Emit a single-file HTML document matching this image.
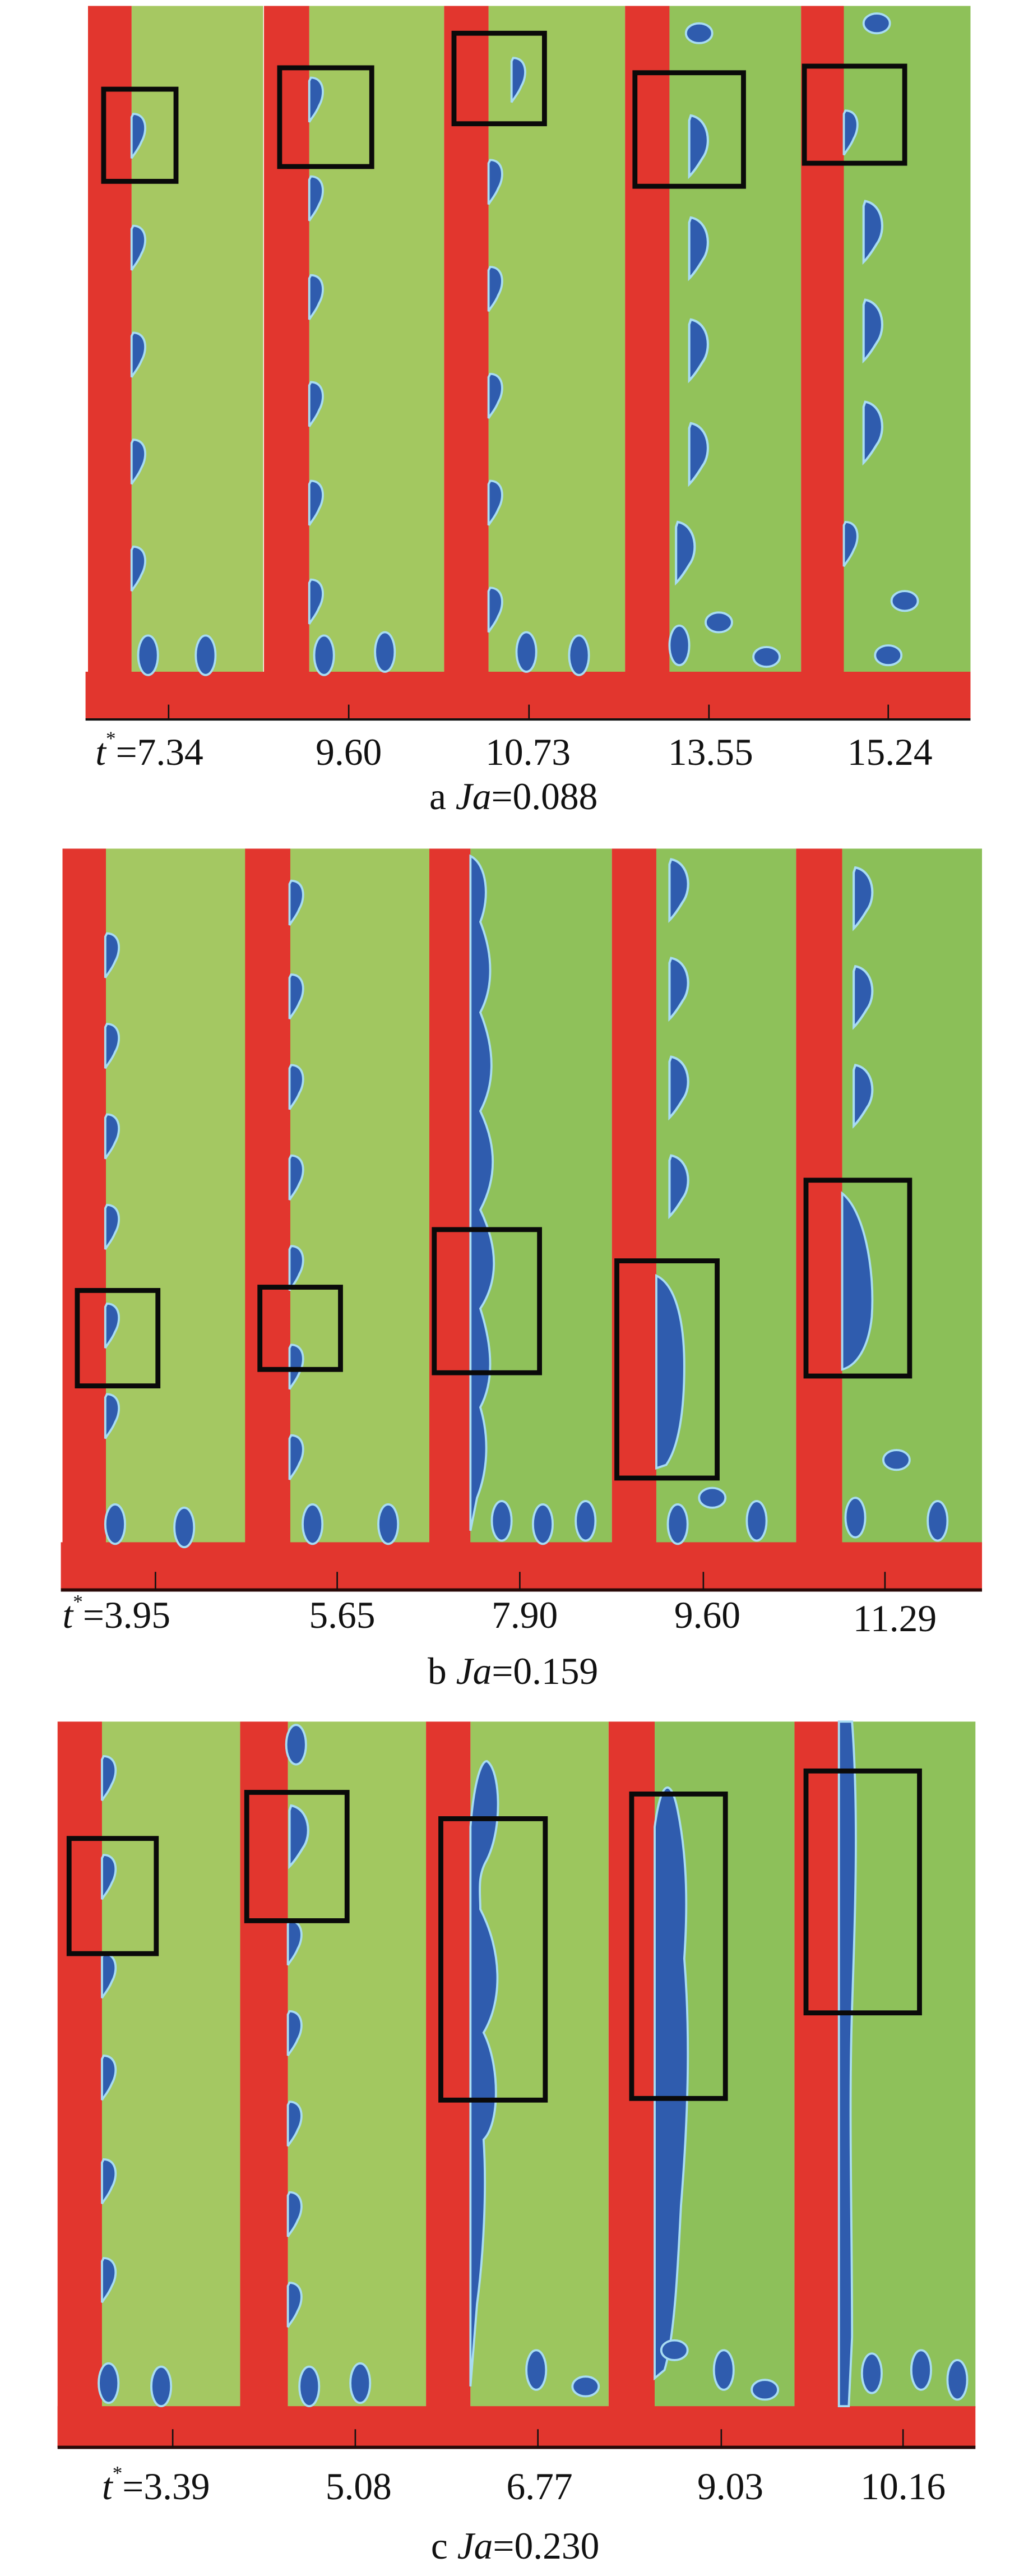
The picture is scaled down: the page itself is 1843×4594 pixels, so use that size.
<!DOCTYPE html>
<html><head><meta charset="utf-8"><style>
html,body{margin:0;padding:0;background:#fff}
svg{display:block}
text{font-family:"Liberation Serif",serif;fill:#111}
</style></head><body>
<svg width="1843" height="4594" viewBox="0 0 628 1565" xmlns="http://www.w3.org/2000/svg">
<defs>
<path id="d" d="M0,-13 C8,-13 9,-3 5,4 C3,9 0,12 -1,14 L-1,-11 Z" fill="#2f5cae" stroke="#a8dcf2" stroke-width="1.3"/>
<path id="D" d="M0,-18 C11,-16 13,0 7,8 C4,13 1,17 -1,19 L-1,-15 Z" fill="#2f5cae" stroke="#a8dcf2" stroke-width="1.4"/>
<ellipse id="b" rx="8" ry="6" fill="#2f5cae" stroke="#a8dcf2" stroke-width="1.3"/>
<ellipse id="p" rx="6" ry="12" fill="#2f5cae" stroke="#a8dcf2" stroke-width="1.3"/>
</defs>

<!-- ===== Panel a ===== -->
<rect x="80" y="3.4" width="80" height="405" fill="#a6c862"/>
<rect x="188" y="3.4" width="82" height="405" fill="#a3c860"/>
<rect x="297" y="3.4" width="83" height="405" fill="#9fc75e"/>
<rect x="407" y="3.4" width="80" height="405" fill="#92c25a"/>
<rect x="513" y="3.4" width="77" height="405" fill="#8ec159"/>
<g fill="#e2362e">
<rect x="53.5" y="3.4" width="26.5" height="433"/>
<rect x="160.5" y="3.4" width="27.5" height="433"/>
<rect x="270" y="3.4" width="27" height="433"/>
<rect x="380" y="3.4" width="27" height="433"/>
<rect x="487" y="3.4" width="26" height="433"/>
<rect x="52" y="408" width="538" height="28.5"/>
</g>
<g>
<use href="#d" x="81" y="82"/><use href="#d" x="81" y="150"/><use href="#d" x="81" y="215"/><use href="#d" x="81" y="280"/><use href="#d" x="81" y="345"/>
<use href="#p" x="90" y="398"/><use href="#p" x="125" y="398"/>
<use href="#d" x="189" y="60"/><use href="#d" x="189" y="120"/><use href="#d" x="189" y="180"/><use href="#d" x="189" y="245"/><use href="#d" x="189" y="305"/><use href="#d" x="189" y="365"/>
<use href="#p" x="197" y="398"/><use href="#p" x="234" y="396"/>
<use href="#d" x="312" y="48"/><use href="#d" x="298" y="110"/><use href="#d" x="298" y="175"/><use href="#d" x="298" y="240"/><use href="#d" x="298" y="305"/><use href="#d" x="298" y="370"/>
<use href="#p" x="320" y="396"/><use href="#p" x="352" y="398"/>
<use href="#b" x="425" y="20"/><use href="#D" x="420" y="88"/><use href="#D" x="420" y="150"/><use href="#D" x="420" y="212"/><use href="#D" x="420" y="275"/><use href="#D" x="412" y="335"/>
<use href="#p" x="413" y="392"/><use href="#b" x="437" y="378"/><use href="#b" x="466" y="399"/>
<use href="#b" x="533" y="14"/><use href="#d" x="514" y="80"/><use href="#D" x="526" y="140"/><use href="#D" x="526" y="200"/><use href="#D" x="526" y="262"/><use href="#d" x="514" y="330"/><use href="#b" x="550" y="365"/><use href="#b" x="540" y="398"/>
</g>
<g fill="none" stroke="#0a0a0a" stroke-width="3">
<rect x="63" y="54" width="44" height="56"/><rect x="170" y="41" width="56" height="60"/><rect x="276" y="20" width="55" height="55"/><rect x="386" y="44" width="66" height="69"/><rect x="489" y="40" width="61" height="59"/>
</g>
<line x1="52" y1="437" x2="590" y2="437" stroke="#111" stroke-width="1.4"/>
<g stroke="#111" stroke-width="0.9"><line x1="102.5" y1="428" x2="102.5" y2="437"/><line x1="212" y1="428" x2="212" y2="437"/><line x1="321.6" y1="428" x2="321.6" y2="437"/><line x1="431" y1="428" x2="431" y2="437"/><line x1="540" y1="428" x2="540" y2="437"/></g>
<g font-size="23">
<text x="58" y="464.5"><tspan font-style="italic">t</tspan><tspan font-size="12" dy="-12">*</tspan><tspan dy="12">=7.34</tspan></text>
<text x="212" y="464.5" text-anchor="middle">9.60</text>
<text x="321" y="464.5" text-anchor="middle">10.73</text>
<text x="432" y="464.5" text-anchor="middle">13.55</text>
<text x="541" y="464.5" text-anchor="middle">15.24</text>
<text x="261" y="491.5">a <tspan font-style="italic">Ja</tspan>=0.088</text>
</g>

<!-- ===== Panel b ===== -->
<rect x="64.4" y="515.5" width="85" height="423" fill="#a4c862"/>
<rect x="176.5" y="515.5" width="85" height="423" fill="#a1c760"/>
<rect x="286" y="515.5" width="86" height="423" fill="#8fc15a"/>
<rect x="399" y="515.5" width="85" height="423" fill="#8ec15a"/>
<rect x="512" y="515.5" width="85" height="423" fill="#8bbf58"/>
<g fill="#e2362e">
<rect x="38" y="515.5" width="26.4" height="450"/>
<rect x="149" y="515.5" width="27.5" height="450"/>
<rect x="261" y="515.5" width="25" height="450"/>
<rect x="372" y="515.5" width="27" height="450"/>
<rect x="484" y="515.5" width="28" height="450"/>
<rect x="37" y="937" width="560" height="28.5"/>
</g>
<g>
<use href="#d" x="65" y="580"/><use href="#d" x="65" y="635"/><use href="#d" x="65" y="690"/><use href="#d" x="65" y="745"/><use href="#d" x="65" y="805"/><use href="#d" x="65" y="860"/><use href="#p" x="70" y="926"/><use href="#p" x="112" y="928"/>
<use href="#d" x="177" y="548"/><use href="#d" x="177" y="605"/><use href="#d" x="177" y="660"/><use href="#d" x="177" y="715"/><use href="#d" x="177" y="770"/><use href="#d" x="177" y="830"/><use href="#d" x="177" y="885"/><use href="#p" x="190" y="926"/><use href="#p" x="236" y="926"/>
<path d="M286,520 C296,525 298,545 292,560 C300,580 300,600 292,615 C302,640 300,660 292,675 C304,700 300,720 292,735 C304,760 302,780 292,795 C300,820 300,840 292,855 C298,875 296,895 290,910 L286,930 Z" fill="#2f5cae" stroke="#a8dcf2" stroke-width="1.3"/>
<use href="#p" x="305" y="924"/><use href="#p" x="330" y="926"/><use href="#p" x="356" y="924"/>
<use href="#D" x="408" y="540"/><use href="#D" x="408" y="600"/><use href="#D" x="408" y="660"/><use href="#D" x="408" y="720"/>
<path d="M399,775 C410,780 416,800 416,830 C416,860 412,880 405,890 L399,892 Z" fill="#2f5cae" stroke="#a8dcf2" stroke-width="1.3"/>
<use href="#b" x="433" y="910"/><use href="#p" x="412" y="926"/><use href="#p" x="460" y="924"/>
<use href="#D" x="520" y="545"/><use href="#D" x="520" y="605"/><use href="#D" x="520" y="665"/>
<path d="M512,725 C525,735 532,770 530,800 C528,820 520,830 512,832 Z" fill="#2f5cae" stroke="#a8dcf2" stroke-width="1.3"/>
<use href="#b" x="545" y="887"/><use href="#p" x="520" y="922"/><use href="#p" x="570" y="924"/>
</g>
<g fill="none" stroke="#0a0a0a" stroke-width="3">
<rect x="47" y="784" width="49" height="58"/><rect x="158" y="782" width="49" height="50"/><rect x="264" y="747" width="64" height="87"/><rect x="375" y="766" width="61" height="132"/><rect x="490" y="717" width="63" height="119"/>
</g>
<line x1="37" y1="966" x2="597" y2="966" stroke="#2a0a08" stroke-width="2"/>
<g stroke="#111" stroke-width="0.9"><line x1="94.5" y1="955" x2="94.5" y2="966"/><line x1="205" y1="955" x2="205" y2="966"/><line x1="316" y1="955" x2="316" y2="966"/><line x1="427.6" y1="955" x2="427.6" y2="966"/><line x1="538" y1="955" x2="538" y2="966"/></g>
<g font-size="23">
<text x="38" y="989"><tspan font-style="italic">t</tspan><tspan font-size="12" dy="-12">*</tspan><tspan dy="12">=3.95</tspan></text>
<text x="208" y="989" text-anchor="middle">5.65</text>
<text x="319" y="989" text-anchor="middle">7.90</text>
<text x="430" y="989" text-anchor="middle">9.60</text>
<text x="544" y="991" text-anchor="middle">11.29</text>
<text x="260" y="1023">b <tspan font-style="italic">Ja</tspan>=0.159</text>
</g>

<!-- ===== Panel c ===== -->
<rect x="62" y="1046" width="84" height="417" fill="#a4c862"/>
<rect x="175" y="1046" width="84" height="417" fill="#a2c860"/>
<rect x="286" y="1046" width="84" height="417" fill="#9cc65e"/>
<rect x="398" y="1046" width="85" height="417" fill="#8dc05a"/>
<rect x="510" y="1046" width="83" height="417" fill="#8ec15a"/>
<g fill="#e2362e">
<rect x="35" y="1046" width="27" height="441"/>
<rect x="146" y="1046" width="29" height="441"/>
<rect x="259" y="1046" width="27" height="441"/>
<rect x="370" y="1046" width="28" height="441"/>
<rect x="483" y="1046" width="27" height="441"/>
<rect x="35" y="1462" width="558" height="25"/>
</g>
<g>
<use href="#d" x="63" y="1080"/><use href="#d" x="63" y="1140"/><use href="#d" x="63" y="1200"/><use href="#d" x="63" y="1262"/><use href="#d" x="63" y="1325"/><use href="#d" x="63" y="1385"/><use href="#p" x="66" y="1448"/><use href="#p" x="98" y="1450"/>
<use href="#p" x="180" y="1060"/><use href="#D" x="177" y="1115"/><use href="#d" x="176" y="1180"/><use href="#d" x="176" y="1235"/><use href="#d" x="176" y="1290"/><use href="#d" x="176" y="1345"/><use href="#d" x="176" y="1400"/><use href="#p" x="188" y="1450"/><use href="#p" x="219" y="1448"/>
<path d="M286,1110 C288,1085 292,1070 296,1070 C304,1075 306,1110 296,1130 C290,1140 292,1150 292,1160 C305,1185 306,1215 294,1235 C304,1255 304,1290 294,1300 C296,1330 294,1370 290,1400 L286,1450 Z" fill="#2f5cae" stroke="#a8dcf2" stroke-width="1.3"/>
<use href="#p" x="326" y="1440"/><use href="#b" x="356" y="1450"/>
<path d="M398,1110 C402,1080 408,1080 412,1100 C418,1130 418,1160 416,1190 C420,1240 418,1290 414,1340 C412,1380 410,1420 404,1440 L398,1445 Z" fill="#2f5cae" stroke="#a8dcf2" stroke-width="1.3"/>
<use href="#b" x="410" y="1428"/><use href="#p" x="440" y="1440"/><use href="#b" x="465" y="1452"/>
<path d="M510,1046 L518,1046 C522,1100 520,1160 518,1220 C516,1280 518,1350 518,1420 L516,1462 L510,1462 Z" fill="#2f5cae" stroke="#a8dcf2" stroke-width="1.3"/>
<use href="#p" x="530" y="1442"/><use href="#p" x="560" y="1440"/><use href="#p" x="582" y="1446"/>
</g>
<g fill="none" stroke="#0a0a0a" stroke-width="3">
<rect x="42" y="1117" width="53" height="70"/><rect x="150" y="1089" width="61" height="78"/><rect x="268" y="1105" width="63.5" height="171"/><rect x="384" y="1090" width="57" height="185"/><rect x="490" y="1076" width="69" height="147"/>
</g>
<line x1="35" y1="1487" x2="593" y2="1487" stroke="#2a0a08" stroke-width="2"/>
<g stroke="#111" stroke-width="0.9"><line x1="105" y1="1476" x2="105" y2="1487"/><line x1="216" y1="1476" x2="216" y2="1487"/><line x1="327" y1="1476" x2="327" y2="1487"/><line x1="438.5" y1="1476" x2="438.5" y2="1487"/><line x1="549" y1="1476" x2="549" y2="1487"/></g>
<g font-size="23">
<text x="62" y="1518.6"><tspan font-style="italic">t</tspan><tspan font-size="12" dy="-12">*</tspan><tspan dy="12">=3.39</tspan></text>
<text x="218" y="1518.6" text-anchor="middle">5.08</text>
<text x="328" y="1518.6" text-anchor="middle">6.77</text>
<text x="444" y="1518.6" text-anchor="middle">9.03</text>
<text x="549" y="1518.6" text-anchor="middle">10.16</text>
<text x="262" y="1554.7">c <tspan font-style="italic">Ja</tspan>=0.230</text>
</g>
</svg>
</body></html>
